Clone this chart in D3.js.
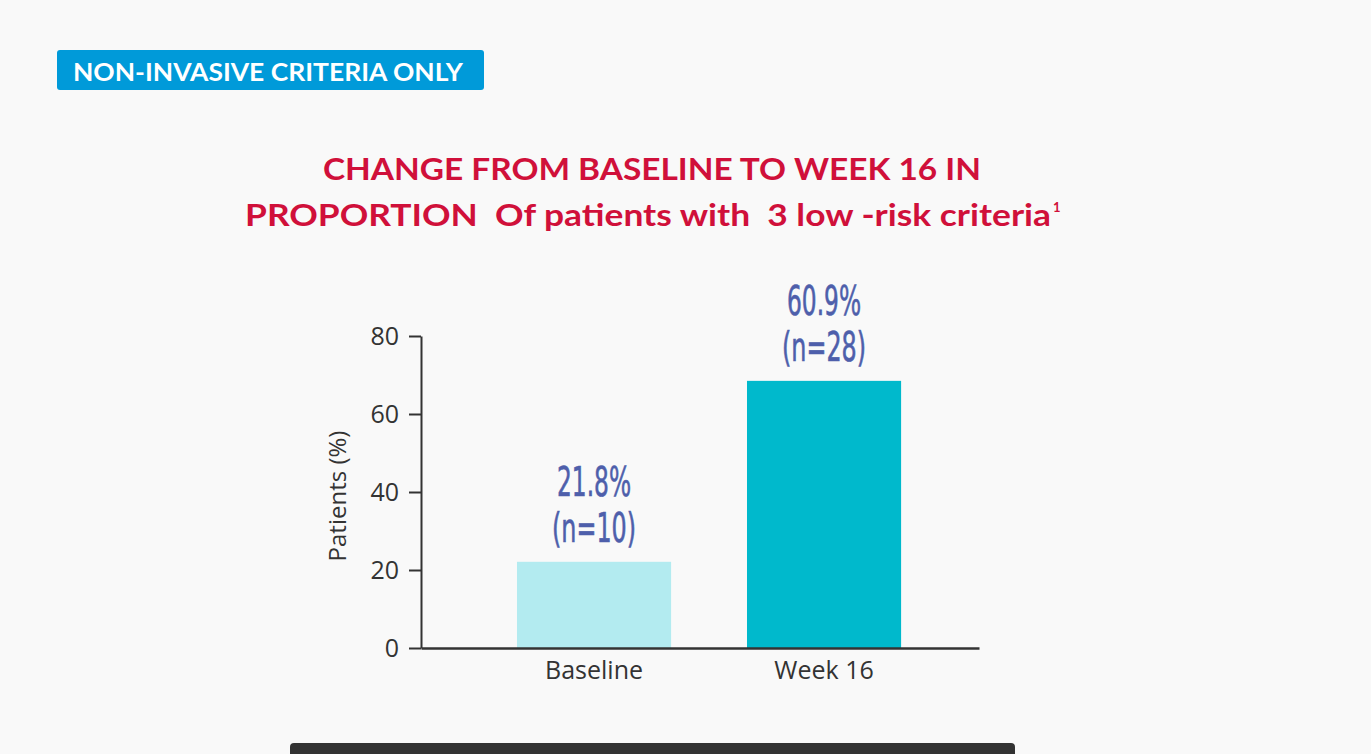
<!DOCTYPE html>
<html>
<head>
<meta charset="utf-8">
<script src="https://cdn.jsdelivr.net/npm/d3@7"></script>
<style>
  html, body { margin: 0; padding: 0; background: #f9f9f9; }
  svg { display: block; }
</style>
</head>
<body>
<script>
const width = 1371, height = 754;

// data
const categories = ["Baseline", "Week 16"];
const values = [22.1, 68.5];            // bar heights as drawn
const pctLabels = ["21.8%", "60.9%"];
const nLabels = ["(n=10)", "(n=28)"];
const yTicks = [0, 20, 40, 60, 80];
const barColors = ["#b3ebf0", "#00b9cc"];

const svg = d3.select("body")
    .append("svg")
    .attr("width", width)
    .attr("height", height);

svg.append("rect")
    .attr("width", width)
    .attr("height", height)
    .attr("fill", "#f9f9f9");

// badge
svg.append("rect")
    .attr("x", 57).attr("y", 50)
    .attr("width", 427).attr("height", 40)
    .attr("rx", 3)
    .attr("fill", "#009ad9");
svg.append("text")
    .attr("x", 73).attr("y", 81)
    .attr("font-family", "Lato, 'Open Sans', sans-serif")
    .attr("font-weight", 700)
    .attr("font-size", 25)
    .attr("fill", "#fff")
    .attr("textLength", 390)
    .attr("lengthAdjust", "spacingAndGlyphs")
    .text("NON-INVASIVE CRITERIA ONLY");

// title
const title = svg.append("g")
    .attr("font-family", "Lato, 'Open Sans', sans-serif")
    .attr("font-weight", 700)
    .attr("fill", "#d0103a");
title.append("text")
    .attr("x", 323).attr("y", 180)
    .attr("font-size", 31)
    .attr("textLength", 658)
    .attr("lengthAdjust", "spacingAndGlyphs")
    .text("CHANGE FROM BASELINE TO WEEK 16 IN");
title.append("text")
    .attr("x", 245).attr("y", 226)
    .attr("font-size", 31)
    .attr("textLength", 806)
    .attr("lengthAdjust", "spacingAndGlyphs")
    .attr("xml:space", "preserve")
    .text("PROPORTION  Of patients with  3 low -risk criteria");
title.append("text")
    .attr("x", 1053).attr("y", 212)
    .attr("font-size", 13)
    .text("1");

// chart
const x = d3.scaleBand()
    .domain(categories)
    .range([421, 979])
    .paddingInner(0.33)
    .paddingOuter(0.378)
    .align(0.552);

const y = d3.scaleLinear()
    .domain([0, 80])
    .range([648, 336]);

svg.selectAll(".bar")
    .data(categories)
    .enter()
    .append("rect")
    .attr("class", "bar")
    .attr("x", d => x(d))
    .attr("y", (d, i) => y(values[i]))
    .attr("width", x.bandwidth())
    .attr("height", (d, i) => y(0) - y(values[i]))
    .attr("fill", (d, i) => barColors[i]);

const yAxis = svg.append("g")
    .attr("transform", "translate(421,0)")
    .call(d3.axisLeft(y)
        .tickValues(yTicks)
        .tickSize(12)
        .tickSizeOuter(0)
        .tickPadding(10));
yAxis.selectAll("path, line").attr("stroke", "#333").attr("stroke-width", 2);
yAxis.selectAll("text")
    .attr("font-family", "'Open Sans', sans-serif")
    .attr("font-size", 25)
    .attr("fill", "#333");

const xAxis = svg.append("g")
    .attr("transform", "translate(0,648)")
    .call(d3.axisBottom(x).tickSize(0).tickSizeOuter(0).tickPadding(13));
xAxis.select("path").attr("stroke", "#333").attr("stroke-width", 2.5);
xAxis.selectAll("text")
    .attr("font-family", "'Open Sans', sans-serif")
    .attr("font-size", 25)
    .attr("fill", "#333");

svg.append("text")
    .attr("transform", "translate(346,496) rotate(-90)")
    .attr("text-anchor", "middle")
    .attr("font-family", "'Open Sans', sans-serif")
    .attr("font-size", 24)
    .attr("fill", "#333")
    .text("Patients (%)");

// value labels
const lab = svg.append("g")
    .attr("font-family", "'Liberation Sans Narrow', 'DejaVu Sans Condensed', sans-serif")
    .attr("font-size", 40)
    .attr("fill", "#4e5fab")
    .attr("stroke", "#4e5fab")
    .attr("stroke-width", 0.6)
    .attr("text-anchor", "middle");
lab.selectAll(".pct")
    .data(categories)
    .enter()
    .append("text")
    .attr("x", d => x(d) + x.bandwidth() / 2)
    .attr("y", (d, i) => y(values[i]) - 66)
    .attr("textLength", 74)
    .attr("lengthAdjust", "spacingAndGlyphs")
    .text((d, i) => pctLabels[i]);
lab.selectAll(".n")
    .data(categories)
    .enter()
    .append("text")
    .attr("x", d => x(d) + x.bandwidth() / 2)
    .attr("y", (d, i) => y(values[i]) - 20)
    .attr("textLength", 84)
    .attr("lengthAdjust", "spacingAndGlyphs")
    .text((d, i) => nLabels[i]);

// footer bar
svg.append("rect")
    .attr("x", 290).attr("y", 743)
    .attr("width", 725).attr("height", 20)
    .attr("rx", 4)
    .attr("fill", "#333");
</script>
</body>
</html>
